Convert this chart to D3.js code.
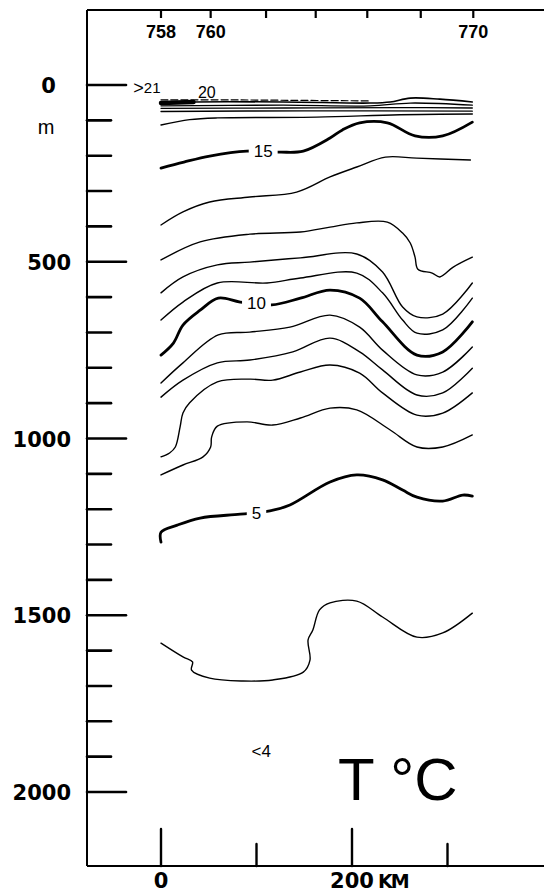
<!DOCTYPE html>
<html>
<head>
<meta charset="utf-8">
<script src="https://cdn.jsdelivr.net/npm/d3@7/dist/d3.min.js"></script>
<style>
  html, body { margin: 0; padding: 0; background: #fff; }
  svg { display: block; }
</style>
</head>
<body>
<svg id="chart" width="544" height="893"></svg>
<script>
// Hydrographic stations along the top edge and their distance along the section (km)
const stations = [758, 760, 762, 764, 766, 768, 770];
const stationKm = [0, 52, 110, 162, 216, 272, 327];
const stationLabels = ["758", "760", "", "", "", "", "770"];

// Depth axis (m) and distance axis (km)
const depthTicks = d3.range(0, 2001, 100);
const depthMajor = [0, 500, 1000, 1500, 2000];
const distTicks = [0, 100, 200, 300];
const distMajor = [0, 200];
const distLabels = ["0", "", "200", ""];

// Isotherms, each point is [distance km, depth m]
const iso21 = [[0, 42], [60, 42], [120, 43], [219, 45]];
const iso20 = [[0, 51], [34, 48], [128, 48], [219, 51], [240, 48], [261, 37], [292, 40], [326, 48]];
const iso19 = [[0, 59], [128, 57], [219, 59], [261, 51], [326, 57]];
const iso18 = [[0, 66], [130, 65], [250, 64], [326, 65]];
const iso17 = [[0, 75], [150, 73], [326, 74]];
const iso16 = [[0, 113], [30, 98], [59, 93], [163, 91], [250, 84], [326, 82]];
const iso15 = [[0, 235], [24, 218], [51, 201], [90, 187], [125, 190], [149, 187], [177, 150], [190, 127],
               [208, 107], [237, 107], [266, 144], [295, 144], [326, 105]];
const iso14 = [[0, 396], [23, 359], [51, 331], [93, 317], [142, 303], [177, 260], [205, 232], [235, 204],
               [268, 207], [324, 212]];
const iso13 = [[0, 495], [41, 444], [93, 422], [146, 416], [177, 402], [205, 390], [237, 388], [253, 419],
               [261, 447], [266, 487], [269, 521], [284, 532], [292, 543], [306, 515], [326, 487]];
const iso12 = [[0, 588], [23, 543], [59, 509], [93, 501], [146, 489], [205, 478], [232, 529], [253, 628],
               [268, 656], [295, 648], [326, 560]];
const iso11 = [[0, 665], [23, 614], [59, 560], [111, 560], [146, 546], [205, 532], [232, 588], [253, 665],
               [268, 702], [295, 693], [326, 603]];
const iso10 = [[0, 764], [13, 730], [23, 679], [41, 637], [60, 603], [83, 614], [116, 622], [146, 603],
               [177, 580], [208, 603], [232, 670], [268, 764], [295, 755], [326, 670]];
const iso9 = [[0, 843], [23, 786], [60, 707], [93, 699], [135, 685], [177, 651], [208, 685], [232, 750],
              [268, 820], [295, 812], [326, 741]];
const iso8 = [[0, 883], [23, 835], [59, 786], [93, 778], [138, 755], [177, 716], [208, 755], [232, 806],
              [268, 877], [295, 871], [326, 801]];
const iso7 = [[0, 1052], [9, 1041], [15, 1024], [20, 967], [23, 928], [30, 899], [59, 840], [93, 832],
              [117, 835], [146, 812], [177, 792], [208, 815], [232, 871], [268, 934], [295, 928], [326, 871]];
const iso6 = [[0, 1103], [23, 1075], [44, 1052], [52, 1024], [53, 996], [59, 965], [90, 953], [117, 962],
              [146, 942], [177, 914], [205, 919], [240, 976], [268, 1024], [295, 1024], [326, 990]];
const iso5 = [[0, 1293], [0, 1265], [17, 1245], [41, 1225], [83, 1214], [114, 1205], [135, 1188], [177, 1123],
              [205, 1103], [232, 1117], [253, 1146], [268, 1166], [295, 1177], [316, 1160], [326, 1163]];
const iso4 = [[0, 1579], [23, 1618], [33, 1632], [32, 1655], [51, 1678], [86, 1686], [117, 1683], [149, 1661],
              [156, 1627], [154, 1570], [159, 1542], [166, 1485], [177, 1465], [205, 1460], [232, 1505],
              [268, 1562], [295, 1550], [326, 1494]];

const isotherms = [
  { t: 21, pts: iso21, w: 1.2, dash: "7,3" },
  { t: 20, pts: iso20, w: 1.6 },
  { t: 19, pts: iso19, w: 1.3 },
  { t: 18, pts: iso18, w: 1.3 },
  { t: 17, pts: iso17, w: 1.3 },
  { t: 16, pts: iso16, w: 1.4 },
  { t: 15, pts: iso15, w: 2.8 },
  { t: 14, pts: iso14, w: 1.4 },
  { t: 13, pts: iso13, w: 1.4 },
  { t: 12, pts: iso12, w: 1.4 },
  { t: 11, pts: iso11, w: 1.4 },
  { t: 10, pts: iso10, w: 2.8 },
  { t: 9, pts: iso9, w: 1.4 },
  { t: 8, pts: iso8, w: 1.4 },
  { t: 7, pts: iso7, w: 1.4 },
  { t: 6, pts: iso6, w: 1.4 },
  { t: 5, pts: iso5, w: 2.8 },
  { t: 4, pts: iso4, w: 1.4 }
];

// Inline contour labels: text, [km, depth], whether the line is broken behind it
const contourLabels = [
  { text: "15", at: [107, 187], gap: true, size: 17 },
  { text: "10", at: [100, 617], gap: true, size: 17 },
  { text: "5", at: [100, 1211], gap: true, size: 17 },
  { text: "20", at: [48, 22], gap: false, size: 16 },
  { text: "<4", at: [105, 1885], gap: false, size: 17 }
];

const svg = d3.select("#chart");
const W = 544;

const x = d3.scaleLinear().domain([0, 200]).range([161, 352]);
const y = d3.scaleLinear().domain([0, 2000]).range([85, 792]);

const frameLeft = 87, frameTop = 10, frameBottom = 866;

// Frame: left depth axis, top station axis, bottom distance axis
const frame = svg.append("g").attr("stroke", "#000").attr("stroke-width", 2).attr("fill", "none");
frame.append("line").attr("x1", frameLeft).attr("x2", frameLeft).attr("y1", frameTop).attr("y2", frameBottom);
frame.append("line").attr("x1", frameLeft).attr("x2", W).attr("y1", frameTop).attr("y2", frameTop);
frame.append("line").attr("x1", frameLeft).attr("x2", W).attr("y1", frameBottom).attr("y2", frameBottom);

// Depth ticks
svg.append("g").selectAll("line").data(depthTicks).join("line")
  .attr("x1", frameLeft)
  .attr("x2", d => depthMajor.includes(d) ? frameLeft + 39 : frameLeft + 24)
  .attr("y1", d => y(d)).attr("y2", d => y(d))
  .attr("stroke", "#000").attr("stroke-width", 2.6).attr("stroke-linecap", "round");

svg.append("g").selectAll("text").data(depthMajor).join("text")
  .attr("x", d => d === 0 ? 48.5 : 71)
  .attr("y", d => y(d) + 1)
  .attr("text-anchor", d => d === 0 ? "middle" : "end")
  .attr("dominant-baseline", "central")
  .attr("font-family", "DejaVu Sans, sans-serif")
  .attr("font-weight", "bold")
  .attr("font-size", 21)
  .text(d => String(d));

svg.append("text")
  .attr("x", 46).attr("y", 134)
  .attr("text-anchor", "middle")
  .attr("font-family", "Liberation Sans, Arial, sans-serif")
  .attr("font-size", 20)
  .text("m");

// Station ticks and labels
svg.append("g").selectAll("line").data(stationKm).join("line")
  .attr("x1", d => x(d)).attr("x2", d => x(d))
  .attr("y1", frameTop).attr("y2", frameTop + 8)
  .attr("stroke", "#000").attr("stroke-width", 2.2);

svg.append("g").selectAll("text").data(stations).join("text")
  .attr("x", (d, i) => x(stationKm[i]))
  .attr("y", 38)
  .attr("text-anchor", "middle")
  .attr("font-family", "Liberation Sans, Arial, sans-serif")
  .attr("font-weight", "bold")
  .attr("font-size", 18)
  .text((d, i) => stationLabels[i]);

// Distance ticks and labels
svg.append("g").selectAll("line").data(distTicks).join("line")
  .attr("x1", d => x(d)).attr("x2", d => x(d))
  .attr("y1", frameBottom)
  .attr("y2", d => distMajor.includes(d) ? frameBottom - 37 : frameBottom - 22)
  .attr("stroke", "#000").attr("stroke-width", 2.4).attr("stroke-linecap", "round");

svg.append("g").selectAll("text").data(distTicks).join("text")
  .attr("x", d => x(d))
  .attr("y", 888)
  .attr("text-anchor", "middle")
  .attr("font-family", "DejaVu Sans, sans-serif")
  .attr("font-weight", "bold")
  .attr("font-size", 21)
  .text((d, i) => distLabels[i]);

svg.append("text")
  .attr("x", x(200) + 26).attr("y", 888)
  .attr("font-family", "DejaVu Sans, sans-serif")
  .attr("font-weight", "bold")
  .attr("font-size", 19)
  .attr("letter-spacing", -2)
  .text("KM");

// Isotherm lines
const line = d3.line()
  .x(d => x(d[0]))
  .y(d => y(d[1]))
  .curve(d3.curveCatmullRom.alpha(0.5));

const lines = svg.append("g").attr("fill", "none").attr("stroke", "#000")
  .attr("stroke-linejoin", "round").attr("stroke-linecap", "round");

lines.selectAll("path").data(isotherms).join("path")
  .attr("d", d => line(d.pts))
  .attr("stroke-width", d => d.w)
  .attr("stroke-dasharray", d => d.dash || null);

// heavy start of the 20 degree isotherm near the coast
lines.append("path")
  .attr("d", d3.line().x(d => x(d[0])).y(d => y(d[1])).curve(d3.curveLinear)(iso20.slice(0, 2)))
  .attr("stroke-width", 4.5);

// Contour labels
const labelG = svg.append("g").attr("font-family", "Liberation Sans, Arial, sans-serif");
contourLabels.forEach(l => {
  const cx = x(l.at[0]), cy = y(l.at[1]);
  const g = labelG.append("g");
  const txt = g.append("text")
    .attr("x", cx).attr("y", cy)
    .attr("text-anchor", "middle")
    .attr("dominant-baseline", "central")
    .attr("font-size", l.size)
    .text(l.text);
  if (l.gap) {
    const bb = txt.node().getBBox();
    g.insert("rect", "text")
      .attr("x", bb.x - 5).attr("y", bb.y)
      .attr("width", bb.width + 10).attr("height", bb.height)
      .attr("fill", "#fff");
  }
});

// Surface label: warmer than 21 degrees
const surf = svg.append("text")
  .attr("x", x(-29)).attr("y", 94)
  .attr("font-family", "Liberation Sans, Arial, sans-serif")
  .attr("font-size", 18);
surf.append("tspan").text(">");
surf.append("tspan").attr("font-size", 15).attr("dy", -1).text("21");

// Section title
svg.append("text")
  .attr("x", 338).attr("y", 800)
  .attr("font-family", "Liberation Sans, Arial, sans-serif")
  .attr("font-size", 60)
  .text("T °C");
</script>
</body>
</html>
